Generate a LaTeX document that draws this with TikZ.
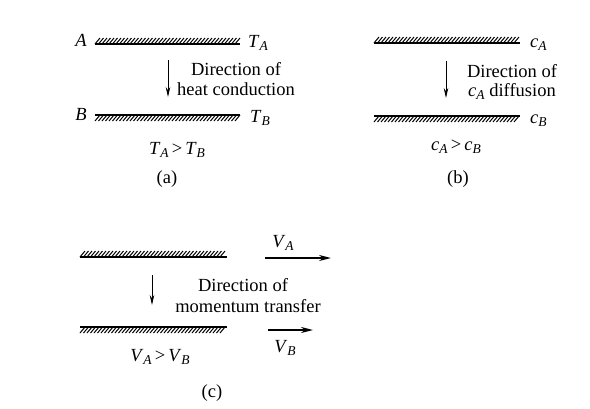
\documentclass[tikz,border=0pt]{standalone}
\usepackage{fontspec}
\setmainfont{Liberation Serif}
\usetikzlibrary{arrows.meta}
\newcommand\symb[2]{\textit{#1}\raisebox{-0.4ex}{\fontsize{13.5}{13.5}\selectfont\textit{#2}}}
\newcommand\hwall[4]{% #1 x1, #2 x2, #3 y of solid line, #4 = 1 hatch above, 0 hatch below
  \draw[wallline] (#1,#3) -- (#2,#3);
  \pgfmathtruncatemacro\hn{(#2-#1-5)/3.5}
  \foreach \i in {0,...,\hn}{
    \ifnum#4=1
      \draw[hatchline] ({#1+\i*3.5},#3) -- ({#1+\i*3.5+5},{#3-6});
    \else
      \draw[hatchline] ({#1+\i*3.5},{#3+6}) -- ({#1+\i*3.5+5},#3);
    \fi
  }
}
\begin{document}
\begin{tikzpicture}[x=1pt,y=-1pt,
  txt/.style={inner sep=0pt,font=\fontsize{18.5}{20}\selectfont,anchor=base},
  wallline/.style={line width=1.2pt},
  hatchline/.style={line width=1pt},
  downarrow/.style={line width=0.9pt,-{Stealth[length=10pt,width=4.5pt]}},
  velarrow/.style={line width=1.6pt,-{Stealth[length=12pt,width=6pt]}}]
\useasboundingbox[fill=white] (0,0) rectangle (590,408);

% ---------- (a) ----------
\hwall{95}{240}{44}{1}
\hwall{95}{240}{115}{0}
\node[txt] (A) at (81,46) {\textit{A}};
\node[txt,anchor=base west] (TA) at (248,47) {\symb{T}{A}};
\node[txt] (B) at (81,120) {\textit{B}};
\node[txt,anchor=base west] (TB) at (250,122) {\symb{T}{B}};
\coordinate (a1) at (168,60);
\coordinate (a2) at (168,97);
\draw[downarrow] (a1) -- (a2);
\node[txt] (da1) at (236,75) {Direction of};
\node[txt] (da2) at (236,95) {heat conduction};
\node[txt] (ra) at (177,154) {\symb{T}{A}\,>\,\symb{T}{B}};
\node[txt] (la) at (167,183) {(a)};

% ---------- (b) ----------
\hwall{374}{520}{43}{1}
\hwall{374}{520}{116}{0}
\node[txt,anchor=base west] (cA) at (530,47) {\symb{c}{A}};
\node[txt,anchor=base west] (cB) at (530,123) {\symb{c}{B}};
\coordinate (b1) at (446,61);
\coordinate (b2) at (446,98);
\draw[downarrow] (b1) -- (b2);
\node[txt] (db1) at (512,77) {Direction of};
\node[txt] (db2) at (512,96) {\symb{c}{A} diffusion};
\node[txt] (rb) at (456,150) {\symb{c}{A}\,>\,\symb{c}{B}};
\node[txt] (lb) at (458,183) {(b)};

% ---------- (c) ----------
\hwall{80}{227}{257}{1}
\hwall{80}{227}{327}{0}
\coordinate (c1) at (152,275);
\coordinate (c2) at (152,305);
\draw[downarrow] (c1) -- (c2);
\node[txt] (dc1) at (243,291) {Direction of};
\node[txt] (dc2) at (248,312) {momentum transfer};
\coordinate (va1) at (265,258);
\coordinate (va2) at (331,258);
\draw[velarrow] (va1) -- (va2);
\node[txt] (VA) at (283,247) {\symb{V}{A}};
\coordinate (vb1) at (268,330);
\coordinate (vb2) at (313,330);
\draw[velarrow] (vb1) -- (vb2);
\node[txt] (VB) at (285,352) {\symb{V}{B}};
\node[txt] (rc) at (160,361) {\symb{V}{A}\,>\,\symb{V}{B}};
\node[txt] (lc) at (212,397) {(c)};
\end{tikzpicture}
\end{document}
